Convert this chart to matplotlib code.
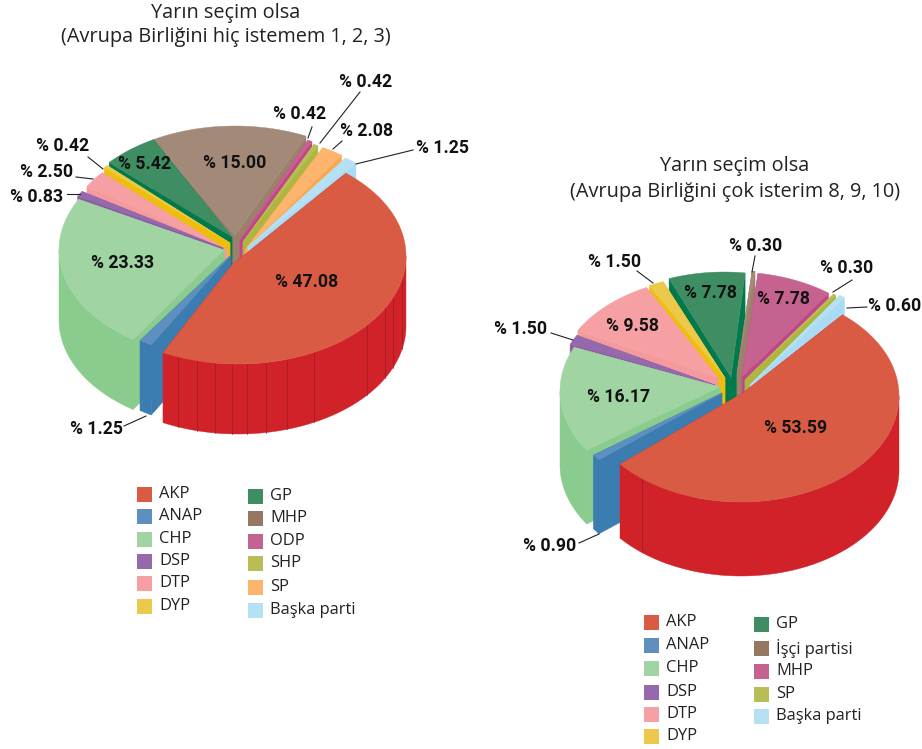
import numpy as np
import matplotlib
matplotlib.use("Agg")
import matplotlib.pyplot as plt
from matplotlib.patches import Polygon, Rectangle

# --- data ---
parties_a = ["AKP", "ANAP", "CHP", "DSP", "DTP", "DYP", "GP", "MHP", "ODP", "SHP", "SP", "Başka parti"]
values_a = [47.08, 1.25, 23.33, 0.83, 2.50, 0.42, 5.42, 15.00, 0.42, 0.42, 2.08, 1.25]
title_a = ["Yarın seçim olsa", "(Avrupa Birliğini hiç istemem 1, 2, 3)"]

parties_b = ["AKP", "ANAP", "CHP", "DSP", "DTP", "DYP", "GP", "İşçi partisi", "MHP", "SP", "Başka parti"]
values_b = [53.59, 0.90, 16.17, 1.50, 9.58, 1.50, 7.78, 0.30, 7.78, 0.30, 0.60]
title_b = ["Yarın seçim olsa", "(Avrupa Birliğini çok isterim 8, 9, 10)"]

# top face / side wall colour by party, the two charts give MHP and SP different colours
top_colors_a = {"AKP": "#D95B43", "ANAP": "#5F8FBE", "CHP": "#A1D4A3", "DSP": "#9569AB", "DTP": "#F6A0A4",
                "DYP": "#EDC94B", "GP": "#3F8E63", "MHP": "#A38A78", "ODP": "#C5628F", "SHP": "#B8BD55",
                "SP": "#FDB46C", "Başka parti": "#B6E1F5"}
wall_colors_a = {"AKP": "#D12229", "ANAP": "#3B7DB0", "CHP": "#8ACB8E", "DSP": "#8C5AA2", "DTP": "#F49A9C",
                 "DYP": "#EDBE0C", "GP": "#007A4D", "MHP": "#9C806C", "ODP": "#C2468A", "SHP": "#AEB63F",
                 "SP": "#FAA84F", "Başka parti": "#A9DCF4"}
top_colors_b = dict(top_colors_a, MHP="#C5628F", SP="#B8BD55", **{"İşçi partisi": "#A38A78"})
wall_colors_b = dict(wall_colors_a, MHP="#C2468A", SP="#AEB63F", **{"İşçi partisi": "#9C806C"})
legend_colors_a = dict(top_colors_a, MHP="#957762")
legend_colors_b = dict(top_colors_b, **{"İşçi partisi": "#957762"})

# --- layout, pixels ---
W, H = 922, 749
START_ANGLE = 50

pie_a = dict(cx=232, cy=250, rx=168, ry=108, depth=70, akp_trim=3,
             arc_dx=[6, 2, -5, -6, -1, 1, 3, 3, 5, 7, 12, 16],
             arc_dy=[6, 1, 0, -3, -8, -13, -16, -16, -12, -9, -7, -4],
             tip_dx=[0, -1, -8, -9, -5, -2, 0, 3, 8, 11, 13, 16],
             tip_dy=[15, 5, 0, -2, 0, -7, -13, -15, -10, -8, 0, -3],
             seams=[-111, -104, -98, -92, -87, -80.5, -73, -63, -39.6, -29, -22.6, -12.5])
pie_b = dict(cx=730, cy=385, rx=158, ry=106, depth=74, akp_trim=3,
             arc_dx=[11, -5, -12, -16, -15, -12, -6, 1, 4, 9, 13],
             arc_dy=[11, 11, 6, 3, -2, -4, -7, -9, -7, -6, -6],
             tip_dx=[13, -8, -10, -15, -12, -5, 1, 7, 12, 15, 20],
             tip_dy=[8, 8, 2, 0, -7, -7, -8, -12, -8, -5, 0],
             seams=[-129])

# inside labels: slice index -> text centre
inner_a = {0: (307, 282), 2: (123, 263), 6: (144, 164), 7: (235, 163)}
inner_b = {0: (796, 428), 2: (619, 397), 4: (632, 326), 6: (710, 293), 8: (783, 299)}
# outside labels: slice index -> text centre, leader start, leader end
outer_a = {1: ((96, 429), (124, 426), (146, 416)), 3: ((37, 197), (67, 194), (80, 194)),
           4: ((47, 172), (76, 177), (93, 179)), 5: ((63, 146), (88, 157), (103, 169)),
           8: ((300, 114), (312, 127), (308, 138)), 9: ((366, 82), (360, 92), (320, 143)),
           10: ((367, 131), (342, 141), (333, 149)), 11: ((442, 148), (413, 150), (356, 164))}
outer_b = {1: ((550, 546), (579, 543), (599, 534)), 3: ((521, 329), (551, 333), (573, 340)),
           5: ((615, 262), (637, 271), (653, 283)), 7: ((756, 246), (755, 256), (752, 272)),
           9: ((847, 268), (852, 280), (833, 292)), 10: ((895, 306), (867, 307), (847, 308))}

LABEL_FONT = dict(family=["Roboto", "Open Sans"], fontweight="bold", fontsize=12.7, color="#111111")
TEXT_FONT = dict(family=["Open Sans", "DejaVu Sans"], color="#222222")

fig = plt.figure(figsize=(W / 100, H / 100), dpi=100)
ax = fig.add_axes([0, 0, 1, 1])
ax.set_xlim(0, W)
ax.set_ylim(H, 0)
ax.axis("off")


def arc(cx, cy, rx, ry, a0, a1, n=None):
    n = n or max(int(abs(a1 - a0)) * 2, 4)
    t = np.radians(np.linspace(a0, a1, n))
    return np.column_stack([cx + rx * np.cos(t), cy - ry * np.sin(t)])


def front_span(a0, a1):
    # part of the clockwise span a0 -> a1 that lies on the near half (-180..0), or None
    for shift in (0, 360, -360):
        hi, lo = min(a0 + shift, 0), max(a1 + shift, -180)
        if hi > lo:
            return hi, lo
    return None


def poly(pts, color, z):
    ax.add_patch(Polygon(pts, closed=True, facecolor=color, edgecolor=color, lw=0.3, zorder=z))


def draw_pie(names, values, p, tops, walls):
    sweeps = np.array(values) / sum(values) * 360
    ends = START_ANGLE - np.cumsum(sweeps)
    starts = ends + sweeps
    mids = (starts + ends) / 2
    ends[0] += p["akp_trim"]
    # back slices first, AKP on top of all its neighbours
    order = sorted(range(len(names)), key=lambda i: (i == 0, -np.sin(np.radians(mids[i]))))
    down = np.array([0, p["depth"]])
    for z, i in enumerate(order):
        ax_cx = p["cx"] + p["arc_dx"][i]
        ax_cy = p["cy"] + p["arc_dy"][i]
        tip = np.array([p["cx"] + p["tip_dx"][i], p["cy"] + p["tip_dy"][i]])
        outer = arc(ax_cx, ax_cy, p["rx"], p["ry"], starts[i], ends[i])
        top, wall = tops[names[i]], walls[names[i]]
        base = 10 + z * 2
        # cut faces, then the curved side (near half only, the far half is hidden by the top)
        poly([tip, outer[0], outer[0] + down, tip + down], wall, base)
        poly([tip, outer[-1], outer[-1] + down, tip + down], wall, base)
        span = front_span(starts[i], ends[i])
        if span:
            band = arc(ax_cx, ax_cy, p["rx"], p["ry"], span[0], span[1])
            poly(np.vstack([band, (band + down)[::-1]]), wall, base)
        if i == 0:
            for s in p["seams"]:
                e = arc(ax_cx, ax_cy, p["rx"], p["ry"], s, s, 1)[0]
                ax.plot([e[0], e[0]], [e[1], e[1] + p["depth"]], color="#9A1C22", lw=0.5, zorder=base)
        poly(np.vstack([tip, outer]), top, base + 1)


def draw_labels(values, inner, outer):
    for i, (x, y) in inner.items():
        ax.text(x, y, f"% {values[i]:.2f}", ha="center", va="center", zorder=60, **LABEL_FONT)
    for i, (pos, p0, p1) in outer.items():
        ax.text(pos[0], pos[1], f"% {values[i]:.2f}", ha="center", va="center", zorder=60, **LABEL_FONT)
        ax.plot([p0[0], p1[0]], [p0[1], p1[1]], color="#222222", lw=0.8, zorder=59)


def draw_legend(names, colors, x, ys):
    for name, y in zip(names, ys):
        ax.add_patch(Rectangle((x, y - 7.5), 15, 15, facecolor=colors[name], edgecolor="none", zorder=5))
        ax.text(x + 22, y, name, ha="left", va="center", fontsize=11.9, **TEXT_FONT)


draw_pie(parties_a, values_a, pie_a, top_colors_a, wall_colors_a)
draw_pie(parties_b, values_b, pie_b, top_colors_b, wall_colors_b)
draw_labels(values_a, inner_a, outer_a)
draw_labels(values_b, inner_b, outer_b)

for line, y in zip(title_a, [13, 37]):
    ax.text(226, y, line, ha="center", va="center", fontsize=14.3, **TEXT_FONT)
for line, y in zip(title_b, [166, 192]):
    ax.text(735, y, line, ha="center", va="center", fontsize=14.3, **TEXT_FONT)

draw_legend(parties_a[:6], legend_colors_a, 137, [494, 516, 539, 561, 583, 606])
draw_legend(parties_a[6:], legend_colors_a, 248, [496, 518, 541, 563, 587, 610])
draw_legend(parties_b[:6], legend_colors_b, 644, [622, 645, 668, 692, 714, 736])
draw_legend(parties_b[6:], legend_colors_b, 754, [624, 648, 671, 694, 716])

fig.savefig("out.png", dpi=100)
